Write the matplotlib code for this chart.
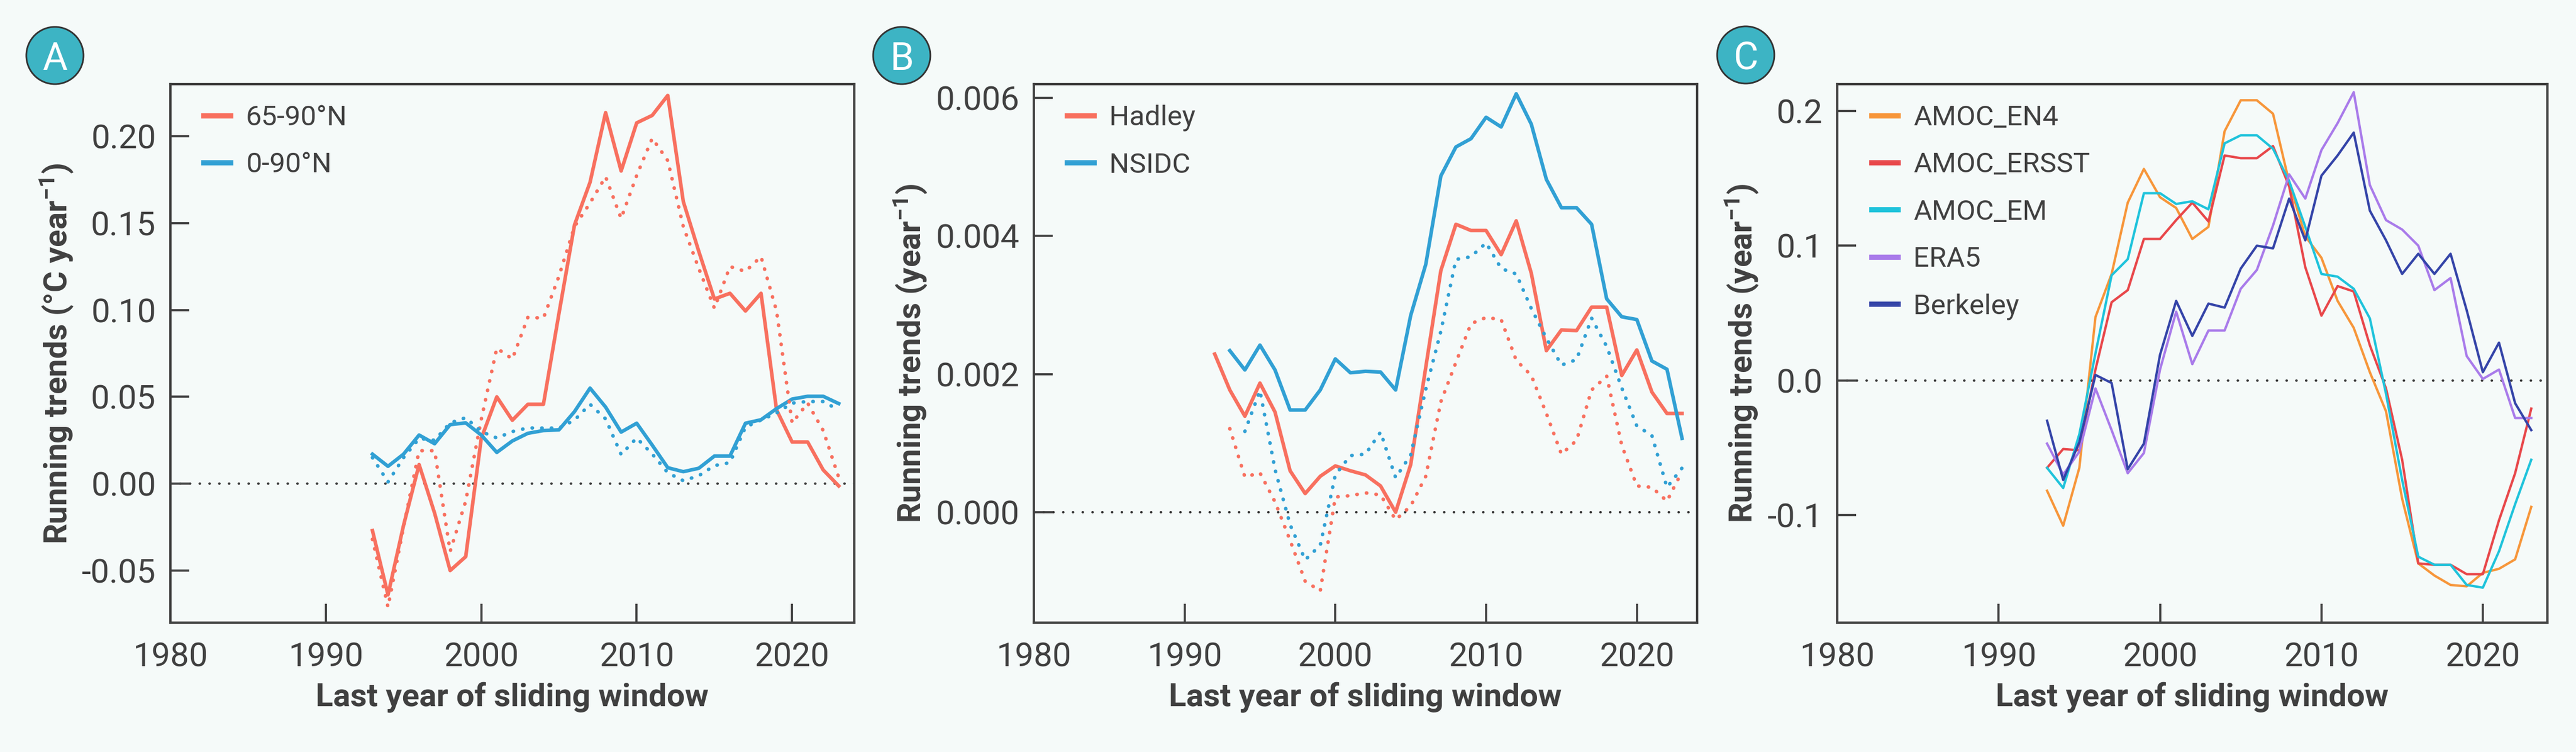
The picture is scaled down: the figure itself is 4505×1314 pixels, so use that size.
import numpy as np
import matplotlib
matplotlib.use('Agg')
import matplotlib.pyplot as plt
from matplotlib.patches import Circle

plt.rcParams.update({
    'font.family': ['Roboto', 'DejaVu Sans'],
    'axes.unicode_minus': False,
    'text.color': '#404040',
    'axes.labelcolor': '#404040',
    'xtick.color': '#404040',
    'ytick.color': '#404040',
})

BG = '#F5FAF9'
INK = '#404040'

# ---- panel A: temperature trends ----
years_a = np.arange(1993, 2024)
a_arctic = [-0.027, -0.064, -0.024, 0.011, -0.017, -0.050, -0.042, 0.026,
            0.050, 0.0365, 0.0457, 0.0457, 0.098, 0.149, 0.1735, 0.2136,
            0.180, 0.2077, 0.212, 0.2235, 0.1624, 0.1336, 0.1063, 0.1096,
            0.0994, 0.1096, 0.0425, 0.024, 0.024, 0.0079, -0.0013]
a_arctic_dot = [-0.032, -0.071, -0.025, 0.019, 0.019, -0.039, -0.010, 0.037,
                0.078, 0.0718, 0.0958, 0.0953, 0.1195, 0.148, 0.1616, 0.1767,
                0.1527, 0.1774, 0.1988, 0.186, 0.148, 0.1238, 0.101, 0.125,
                0.1222, 0.1307, 0.0994, 0.0349, 0.0464, 0.0306, 0.0036]
a_nh = [0.017, 0.010, 0.017, 0.028, 0.023, 0.034, 0.035, 0.028,
        0.018, 0.0246, 0.029, 0.0306, 0.031, 0.0415, 0.055, 0.0441,
        0.0297, 0.0348, 0.0222, 0.0092, 0.0069, 0.0089, 0.0159, 0.0159,
        0.0348, 0.0368, 0.0432, 0.0487, 0.0503, 0.0503, 0.0461]
a_nh_dot = [0.015, 0.001, 0.015, 0.026, 0.025, 0.035, 0.038, 0.030,
            0.0263, 0.030, 0.0321, 0.032, 0.032, 0.0366, 0.0457, 0.0373,
            0.0168, 0.0263, 0.0171, 0.0063, 0.0017, 0.0046, 0.0104, 0.0121,
            0.0326, 0.0366, 0.0407, 0.0464, 0.0473, 0.0473, 0.0424]

# ---- panel B: Hadley / NSIDC ----
years_b_had = np.arange(1992, 2024)
b_hadley = [0.00229, 0.00177, 0.00139, 0.00187, 0.00145, 0.00060, 0.00027, 0.00052,
            0.00067, 0.00060, 0.00054, 0.00038, 0.00000, 0.00069, 0.00210, 0.00350,
            0.00417, 0.00408, 0.00408, 0.00373, 0.00422, 0.00346, 0.00234, 0.00264,
            0.00263, 0.00297, 0.00297, 0.00198, 0.00235, 0.00174, 0.00143, 0.00143]
years_b_ns = np.arange(1993, 2024)
b_nsidc = [0.00234, 0.00206, 0.00242, 0.00206, 0.00148, 0.00148, 0.00177, 0.00222,
           0.00202, 0.00204, 0.00203, 0.00177, 0.00285, 0.00359, 0.00487, 0.00529,
           0.00541, 0.00572, 0.00558, 0.00606, 0.00562, 0.00482, 0.00441, 0.00441,
           0.00417, 0.00309, 0.00283, 0.00279, 0.00219, 0.00207, 0.00107]
years_b_had_dot = np.arange(1993, 2024)
b_hadley_dot = [0.00121, 0.00051, 0.00057, 0.00015, -0.00041, -0.00100, -0.00114, 0.00022,
                0.00024, 0.00028, 0.00025, -0.00011, 0.00009, 0.00052, 0.00160, 0.00217,
                0.00273, 0.00282, 0.00279, 0.00220, 0.00198, 0.00143, 0.00084, 0.00104,
                0.00177, 0.00197, 0.00097, 0.00038, 0.00036, 0.00016, 0.00059]
years_b_ns_dot = np.arange(1994, 2024)
b_nsidc_dot = [0.00117, 0.00176, 0.00062, -0.00018, -0.00069, -0.00048, 0.00054,
               0.00082, 0.00084, 0.00116, 0.00050, 0.00083, 0.00178, 0.00262, 0.00366,
               0.00370, 0.00390, 0.00353, 0.00345, 0.00295, 0.00252, 0.00213, 0.00221,
               0.00281, 0.00240, 0.00180, 0.00125, 0.00111, 0.00036, 0.00064]

# ---- panel C: AMOC indices and reanalyses ----
years_c = np.arange(1993, 2024)
c_en4 = [-0.082, -0.108, -0.065, 0.047, 0.079, 0.132, 0.157, 0.136,
         0.128, 0.105, 0.114, 0.185, 0.208, 0.208, 0.198, 0.147,
         0.107, 0.091, 0.059, 0.039, 0.006, -0.023, -0.088, -0.136,
         -0.145, -0.152, -0.153, -0.143, -0.140, -0.133, -0.094]
c_ersst = [-0.065, -0.051, -0.052, 0.008, 0.058, 0.067, 0.105, 0.105,
           0.119, 0.132, 0.118, 0.167, 0.165, 0.165, 0.174, 0.144,
           0.084, 0.048, 0.070, 0.066, 0.026, -0.006, -0.059, -0.136,
           -0.137, -0.137, -0.144, -0.144, -0.104, -0.069, -0.021]
c_em = [-0.065, -0.080, -0.040, 0.020, 0.078, 0.090, 0.139, 0.139,
        0.131, 0.133, 0.127, 0.176, 0.182, 0.182, 0.172, 0.148,
        0.114, 0.079, 0.077, 0.068, 0.046, -0.010, -0.074, -0.131,
        -0.137, -0.137, -0.152, -0.154, -0.127, -0.092, -0.059]
c_era5 = [-0.047, -0.070, -0.053, -0.006, -0.037, -0.069, -0.054, 0.008,
          0.051, 0.012, 0.037, 0.037, 0.068, 0.082, 0.115, 0.153,
          0.135, 0.171, 0.191, 0.214, 0.145, 0.119, 0.112, 0.100,
          0.067, 0.076, 0.018, 0.001, 0.008, -0.028, -0.028]
c_berk = [-0.030, -0.074, -0.046, 0.004, -0.002, -0.066, -0.047, 0.019,
          0.059, 0.033, 0.057, 0.054, 0.083, 0.100, 0.098, 0.135,
          0.104, 0.152, 0.167, 0.184, 0.126, 0.104, 0.079, 0.094,
          0.079, 0.094, 0.052, 0.006, 0.028, -0.017, -0.037]

RED = '#F8705F'
BLUE = '#31A0D4'
c_colors = ['#F7963A', '#E8474A', '#1FC3DB', '#A97BEA', '#3444A8']
c_names = ['AMOC_EN4', 'AMOC_ERSST', 'AMOC_EM', 'ERA5', 'Berkeley']

W, H, DPI = 4505, 1314, 300
fig = plt.figure(figsize=(W / DPI, H / DPI), dpi=DPI, facecolor=BG)

LABEL_FS = 13.5

def make_ax(left, right, top=147, bottom=1088):
    ax = fig.add_axes([left / W, (H - bottom) / H, (right - left) / W, (bottom - top) / H])
    ax.set_facecolor(BG)
    for s in ax.spines.values():
        s.set_color(INK)
        s.set_linewidth(1.0)
    ax.tick_params(direction='in', length=8, width=0.9, labelsize=14, pad=6)
    ax.tick_params(axis='x', pad=8)
    ax.set_xlim(1980, 2024)
    ax.set_xticks([1980, 1990, 2000, 2010, 2020])
    ax.axhline(0, color='#333333', lw=1.0, ls=(0, (0.1, 4)), dash_capstyle='round', zorder=1)
    ax.set_xlabel('Last year of sliding window', fontsize=LABEL_FS, fontweight='bold', labelpad=3.5)
    return ax

def badge(x, y, letter):
    fig.add_artist(Circle((x / DPI, (H - y) / DPI), 50 / DPI, transform=fig.dpi_scale_trans,
                          facecolor='#3DB4C4', edgecolor='#333333', lw=0.7))
    fig.text(x / W, (H - y) / H, letter, color='white', fontsize=16, ha='center', va='center_baseline')

dot = dict(ls=(0, (0.1, 2.6)), dash_capstyle='round')
leg_kw = dict(loc='upper left', frameon=False, fontsize=11.8, handlelength=0.95,
              handletextpad=0.55, labelspacing=0.74, borderaxespad=0, borderpad=0)

def style_legend(leg):
    for t in leg.get_texts():
        t.set_color(INK)
    for h in leg.get_lines():
        h.set_linewidth(2.2)

# A
ax = make_ax(298, 1494)
ax.plot(years_a, a_arctic, color=RED, lw=1.5, label='65-90°N')
ax.plot(years_a, a_nh, color=BLUE, lw=1.5, label='0-90°N')
ax.plot(years_a, a_arctic_dot, color=RED, lw=1.5, **dot)
ax.plot(years_a, a_nh_dot, color=BLUE, lw=1.5, **dot)
ax.set_ylim(-0.08, 0.23)
ax.set_yticks([-0.05, 0, 0.05, 0.10, 0.15, 0.20])
ax.yaxis.set_major_formatter(matplotlib.ticker.FormatStrFormatter('%.2f'))
ax.set_ylabel('Running trends (°C year$^{\\mathregular{-1}}$)', fontsize=LABEL_FS, fontweight='bold', labelpad=3)
style_legend(ax.legend(bbox_to_anchor=(0.0485, 0.962), **leg_kw))
badge(96, 97, 'A')

# B
ax = make_ax(1808, 2968)
ax.plot(years_b_had, b_hadley, color=RED, lw=1.5, label='Hadley')
ax.plot(years_b_ns, b_nsidc, color=BLUE, lw=1.5, label='NSIDC')
ax.plot(years_b_had_dot, b_hadley_dot, color=RED, lw=1.5, **dot)
ax.plot(years_b_ns_dot, b_nsidc_dot, color=BLUE, lw=1.5, **dot)
ax.set_ylim(-0.0016, 0.0062)
ax.set_yticks([0, 0.002, 0.004, 0.006])
ax.yaxis.set_major_formatter(matplotlib.ticker.FormatStrFormatter('%.3f'))
ax.set_ylabel('Running trends (year$^{\\mathregular{-1}}$)', fontsize=LABEL_FS, fontweight='bold', labelpad=3)
style_legend(ax.legend(bbox_to_anchor=(0.05, 0.962), **leg_kw))
badge(1577, 97, 'B')

# C
ax = make_ax(3213, 4455)
for vals, col, name in zip([c_en4, c_ersst, c_em, c_era5, c_berk], c_colors, c_names):
    ax.plot(years_c, vals, color=col, lw=1.0, label=name)
ax.set_ylim(-0.18, 0.22)
ax.set_yticks([-0.1, 0, 0.1, 0.2])
ax.yaxis.set_major_formatter(matplotlib.ticker.FormatStrFormatter('%.1f'))
ax.set_ylabel('Running trends (year$^{\\mathregular{-1}}$)', fontsize=LABEL_FS, fontweight='bold', labelpad=3)
style_legend(ax.legend(bbox_to_anchor=(0.048, 0.962), **leg_kw))
badge(3053, 96, 'C')

fig.savefig('out.png', dpi=DPI, facecolor=BG)
